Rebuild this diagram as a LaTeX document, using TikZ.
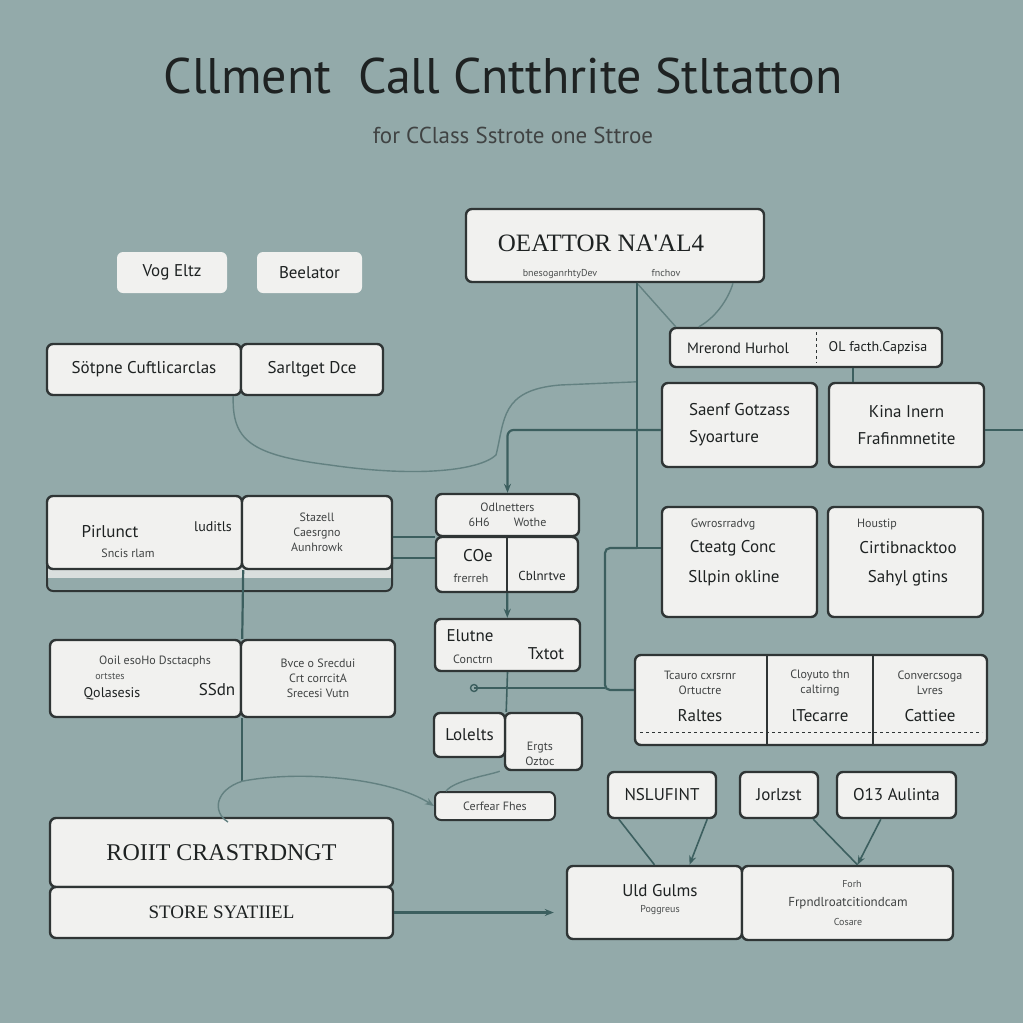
\documentclass[tikz,border=0pt]{standalone}
\usepackage{fontspec}
\setmainfont{PT Sans}
\newfontfamily\capsfont{Liberation Serif}
\usetikzlibrary{arrows.meta}
\definecolor{bgc}{HTML}{93AAAA}
\definecolor{paperc}{HTML}{F1F1EF}
\definecolor{linec}{HTML}{2F3535}
\definecolor{wirec}{HTML}{3C5F5F}
\definecolor{inkc}{HTML}{1E2222}

\begin{document}
\begin{tikzpicture}[x=1pt,y=-1pt,
    box/.style={draw=linec,fill=paperc,line width=2.4pt,rounded corners=6pt,inner sep=0pt},
    tag/.style={fill=paperc,rounded corners=6pt,inner sep=0pt},
    big/.style={font=\fontsize{17}{20}\selectfont,text=inkc},
    mid/.style={font=\fontsize{17}{20}\selectfont,text=inkc},
    small/.style={font=\fontsize{12}{15}\selectfont,text=inkc!85},
    tiny/.style={font=\fontsize{10}{12}\selectfont,text=inkc!80},
    wire/.style={draw=wirec,line width=2.2pt},
    faint/.style={draw=wirec!55!bgc,line width=1.4pt},
    >={Stealth[length=9pt,width=7pt]}]
  \useasboundingbox[fill=bgc] (0,0) rectangle (1023,1023);

  \node[font=\fontsize{50}{54}\selectfont,text=inkc] (title) at (503,76) {Cllment\ \ Call Cntthrite Stltatton};
  \node[font=\fontsize{23}{26}\selectfont,text=inkc!85] (sub) at (513,135) {for CClass Sstrote one Sttroe};

  \node[tag,minimum width=110pt,minimum height=41pt,big] (vog) at (172,272.5) {Vog Eltz};
  \node[tag,minimum width=105pt,minimum height=41pt,big] (bee) at (309.5,272.5) {Beelator};

  \node[box,minimum width=194pt,minimum height=51pt,mid] (sot) at (144,369.5) {Sötpne Cuftlicarclas};
  \node[box,minimum width=142pt,minimum height=51pt,mid] (sar) at (312,369.5) {Sarltget Dce};

  \node[box,minimum width=298pt,minimum height=73pt] (opr) at (615,245.5) {};
  \node[font=\capsfont\fontsize{25}{28}\selectfont,text=inkc] (oprT) at (601,243) {OEATTOR NA'AL4};
  \node[tiny] (oprA) at (560,274) {bnesoganrhtyDev};
  \node[tiny] (oprB) at (666,273) {fnchov};

  \node[box,minimum width=272pt,minimum height=39pt] (mer) at (806,347.5) {};
  \node[font=\fontsize{15}{17}\selectfont,text=inkc] (merA) at (738,348) {Mrerond Hurhol};
  \node[font=\fontsize{14}{16}\selectfont,text=inkc] (merB) at (878,348) {OL facth.Capzisa};
  \draw[linec,dashed,line width=1pt] (816,332) -- (816,363);

  \node[box,minimum width=155pt,minimum height=84pt,align=left,mid] (sae) at (739.5,425) {Saenf Gotzass\\[7pt]Syoarture};
  \node[box,minimum width=155pt,minimum height=84pt,align=center,mid] (kin) at (906.5,425) {Kina Inern\\[7pt]Frafinmnetite};

  \draw[linec,line width=2pt,rounded corners=6pt] (47,555) -- (47,591) -- (392,591) -- (392,555);
  \fill[paperc!75!bgc] (48,566) rectangle (391,578);
  \node[box,minimum width=195pt,minimum height=73pt] (pri) at (144.5,532.5) {};
  \node[mid] (priA) at (110,532) {Pirlunct};
  \node[font=\fontsize{14}{16}\selectfont,text=inkc] (priB) at (213,527) {luditls};
  \node[small] (priC) at (128,553) {Sncis rlam};
  \node[box,minimum width=150pt,minimum height=73pt,small,align=center] (sta) at (317,532.5) {Stazell\\Caesrgno\\Aunhrowk};

  \node[box,minimum width=143pt,minimum height=42pt,small,align=center] (odl) at (507.5,515) {Odlnetters\\6H6\qquad Wothe};
  \node[box,minimum width=142pt,minimum height=55pt] (coe) at (507,564.5) {};
  \draw[linec,line width=1.8pt] (coe.north) -- (coe.south);
  \node[mid] (coeA) at (478,556) {COe};
  \node[small] (coeB) at (471,578) {frerreh};
  \node[font=\fontsize{13}{16}\selectfont,text=inkc] (coeC) at (542,576) {Cblnrtve};

  \node[box,minimum width=145pt,minimum height=52pt] (elu) at (507.5,645) {};
  \node[mid] (eluA) at (470,636) {Elutne};
  \node[small] (eluB) at (473,659) {Conctrn};
  \node[mid] (eluC) at (546,654) {Txtot};

  \node[box,minimum width=77pt,minimum height=57pt] (erg) at (543.5,741.5) {};
  \node[small,align=center] (ergA) at (540,754) {Ergts\\Oztoc};
  \node[box,minimum width=71pt,minimum height=44pt,mid] (lol) at (469.5,735) {Lolelts};
  \node[box,minimum width=120pt,minimum height=28pt,small,line width=2pt] (cer) at (495,806) {Cerfear Fhes};

  \node[box,minimum width=155pt,minimum height=110pt] (gwr) at (739.5,562) {};
  \node[small] (gwrA) at (723,524) {Gwrosrradvg};
  \node[mid] (gwrB) at (733,548) {Cteatg Conc};
  \node[mid] (gwrC) at (734,578) {Sllpin okline};
  \node[box,minimum width=155pt,minimum height=110pt] (hou) at (905.5,562) {};
  \node[small] (houA) at (877,524) {Houstip};
  \node[mid] (houB) at (908,548) {Cirtibnacktoo};
  \node[mid] (houC) at (908,578) {Sahyl gtins};

  \node[box,minimum width=352pt,minimum height=90pt] (tca) at (811,700) {};
  \draw[linec,line width=1.6pt] (767,656) -- (767,744) (873,656) -- (873,744);
  \draw[linec,dashed,line width=1pt] (640,732) -- (982,732);
  \node[small,align=center] (tcaA) at (700,683) {Tcauro cxrsrnr\\Ortuctre};
  \node[mid] (tcaB) at (700,716) {Raltes};
  \node[small,align=center] (tcaC) at (820,683) {Cloyuto thn\\caltirng};
  \node[mid] (tcaD) at (820,716) {lTecarre};
  \node[small,align=center] (tcaE) at (930,683) {Convercsoga\\Lvres};
  \node[mid] (tcaF) at (930,716) {Cattiee};

  \node[box,minimum width=191pt,minimum height=77pt] (ooi) at (145.5,678.5) {};
  \node[small] (ooiA) at (155,661) {Ooil esoHo Dsctacphs};
  \node[tiny] (ooiB) at (110,676) {ortstes};
  \node[font=\fontsize{14}{16}\selectfont,text=inkc] (ooiC) at (112,694) {Qolasesis};
  \node[mid] (ooiD) at (217,690) {SSdn};
  \node[box,minimum width=154pt,minimum height=77pt,small,align=center] (bvc) at (318,678.5) {Bvce o Srecdui\\Crt corrcitA\\Srecesi Vutn};

  \node[box,minimum width=108pt,minimum height=46pt,mid] (nsl) at (662,795) {NSLUFINT};
  \node[box,minimum width=78pt,minimum height=46pt,mid] (jor) at (779,795) {Jorlzst};
  \node[box,minimum width=119pt,minimum height=46pt,mid] (oau) at (896.5,795) {O13 Aulinta};

  \node[box,minimum width=175pt,minimum height=73pt] (uld) at (654.5,902.5) {};
  \node[mid] (uldA) at (660,891) {Uld Gulms};
  \node[tiny] (uldB) at (660,910) {Poggreus};
  \node[box,minimum width=211pt,minimum height=74pt] (frp) at (847.5,903) {};
  \node[tiny] (frpA) at (852,884) {Forh};
  \node[font=\fontsize{13}{15}\selectfont,text=inkc!85] (frpB) at (848,903) {Frpndlroatcitiondcam};
  \node[tiny] (frpC) at (848,922) {Cosare};

  \node[box,minimum width=343pt,minimum height=69pt,font=\capsfont\fontsize{24}{26}\selectfont,text=inkc] (roi) at (221.5,852.5) {ROIIT CRASTRDNGT};
  \node[box,minimum width=343pt,minimum height=51pt,font=\capsfont\fontsize{19}{21}\selectfont,text=inkc] (sto) at (221.5,912.5) {STORE SYATIIEL};

  \coordinate (j1) at (637,548);
  \coordinate (j2) at (605,600);
  \coordinate (c1) at (474,688);
  \coordinate (rim) at (1023,430);
  \coordinate (k1) at ([yshift=-63pt]ooi.south east);
  \coordinate (k2) at (228,822);
  \coordinate (p1) at ([yshift=-4.5pt]sta.east);
  \coordinate (p2) at ([yshift=-25.5pt]sta.east);

  \draw[faint] ([xshift=-9pt]sot.south east) .. controls (232,440) and (250,455) .. (330,465)
    .. controls (420,478) and (480,470) .. (496,455) .. controls (505,420) and (500,390) .. (560,385) -- (j1 |- sae.north);
  \draw[faint] (j1 |- opr.south) -- ([xshift=7pt]mer.north west);
  \draw[faint] ([xshift=118pt]opr.south) .. controls (728,300) and (715,318) .. ([xshift=30pt]mer.north west);
  \draw[wire] (j1 |- opr.south) -- (j1) -- ([yshift=14pt]gwr.west);
  \draw[wire,rounded corners=5pt] (j1) -| (j2) |- ([yshift=10pt]tca.west);
  \draw[wire] (c1) -- (c1 -| j2);
  \draw[wirec,line width=1.4pt] (c1) circle (3.5pt);
  \draw[wire,line width=1.8pt] ([xshift=47pt]mer.south) -- ([xshift=-53.5pt]kin.north);
  \draw[wire] ([yshift=-5pt]kin.east) -- (rim);
  \draw[wire,rounded corners=6pt,->] ([yshift=-5pt]sae.west) -| (odl.north);
  \draw[wire] (p1) -- (p1 -| odl.west);
  \draw[wire] (p2) -- (p2 -| coe.west);
  \draw[wire,->] (coe) -- (elu);
  \draw[wire,line width=1.6pt] (elu.south) -- (lol.north east);
  \draw[wire] (pri.south east) -- (ooi.north east);
  \draw[wire,line width=1.6pt] (ooi.south east) -- (k1);
  \draw[faint,->] (k1) .. controls (300,770) and (390,778) .. (cer.west);
  \draw[faint] (k1) .. controls (215,790) and (212,812) .. (k2);
  \draw[faint] ([xshift=-4pt]erg.south west) .. controls (490,775) and (455,780) .. ([xshift=12pt]cer.north west);
  \draw[wire,line width=1.6pt] ([xshift=12pt]nsl.south west) -- (uld.north);
  \draw[wire,line width=1.6pt,->] ([xshift=-10pt]nsl.south east) -- ([xshift=35pt]uld.north);
  \draw[wire,line width=1.6pt] ([xshift=-6pt]jor.south east) -- ([xshift=10pt]frp.north);
  \draw[wire,line width=1.6pt,->] ([xshift=45pt]oau.south west) -- ([xshift=10pt]frp.north);
  \draw[wire,->,shorten >=12pt] (sto.east) -- (sto.east -| uld.west);
\end{tikzpicture}
\end{document}
